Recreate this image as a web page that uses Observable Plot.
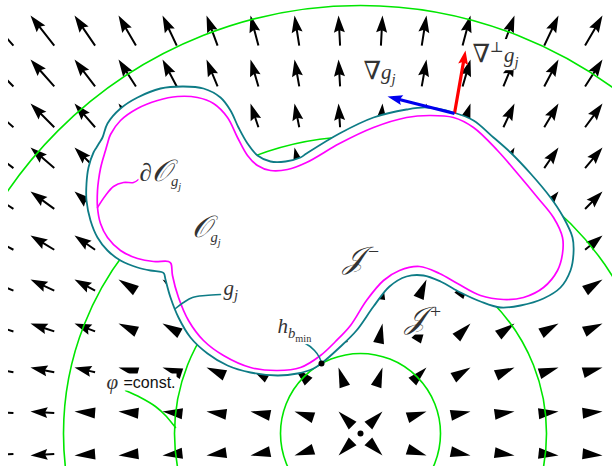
<!DOCTYPE html>
<html><head><meta charset="utf-8">
<script src="https://cdn.jsdelivr.net/npm/d3@7"></script>
<script src="https://cdn.jsdelivr.net/npm/@observablehq/plot@0.6"></script>
<style>body{margin:0;background:#fff}</style>
</head><body><div id="chart"></div>
<script>
// Quiver grid (arrow tip positions)
const colX = [-14, 30, 74, 118, 162, 206, 250, 294, 338, 382, 426, 470, 514, 558, 602];
const rowY = [15, 59, 103, 147, 191, 235, 279, 323, 367, 411, 455];
// source of the radial field
const source = [360, 433];
// level sets phi = const (radii)
const levelRadii = [80, 186, 297, 428];
// outer boundary g_j (teal)
const outerBoundary = [
[161,271.5],[150,270],[137,267],[120,260],[107,250],[97,237],[90,220],[86,200],[86,183],[88,167],[93,152],[96,147],[99,142],[102,137],[107,123],[120,108],[137,97],[160,88],[183,86],[203,88],[220,97],[230,110],[238,127],[247,143],[257,155],[270,161],[285,161],[300,157],[306,153],[339,133],[373,117],[406,109],[426,107],[453,112],[473,120],[493,137],[510,152],[530,173],[550,197],[563,217],[572,237],[573,253],[570,270],[560,287],[543,298],[520,305],[500,307],[480,301],[460,292],[440,281],[423,275],[406,276],[389,286],[373,306],[356,330],[339,347],[322,362],[313,368],[297,373],[277,375],[250,372],[227,365],[207,353],[190,337],[178,317],[170,297],[165,279],[163.5,273]
];
// inner boundary dO_gj (magenta)
const innerBoundary = [
[168,261],[153,261],[137,258],[120,250],[107,237],[100,223],[97,207],[97,190],[98,180],[100,168],[102,160],[105,150],[107,143],[110,134],[120,120],[137,108],[157,100],[177,96],[197,97],[213,103],[227,117],[237,137],[247,155],[257,165],[270,170],[287,169],[306,162],[339,143],[373,127],[406,117],[429,115],[453,117],[473,127],[497,150],[517,173],[537,197],[553,217],[562,237],[562,253],[557,270],[543,287],[523,297],[503,299],[480,295],[457,283],[439,273],[419,266],[399,270],[383,280],[366,300],[350,325],[335,341],[320,355],[300,367],[277,370],[250,367],[223,355],[203,340],[188,320],[178,297],[172,275],[170.5,263]
];
// leader lines
const leaders = [
  {c: "#ff00ff", pts: [[97,207],[105,195],[113,186],[123,182],[133,182],[138,179]]},
  {c: "#0e7c86", pts: [[175,308],[183,302],[192,297],[205,295],[220,294]]},
  {c: "#0e7c86", pts: [[294,340],[305,343],[314,350],[319,357],[321,363]]},
  {c: "#00e600", pts: [[125,390],[140,397],[155,406],[166,416],[175,427]]}
];
const contactPoint = [321, 363];
// gradient / perpendicular gradient at boundary point
const basePoint = [454, 113];
const gradTip = [387, 96];
const perpTip = [465, 50];
// labels (markup: _{} sub, ^{} sup, [] upright, <> enlarged symbol)
const labels = [
  {t: "<∂><𝒪>_{g_{j}}", x: 139, y: 180},
  {t: "<𝒪>_{g_{j}}", x: 191, y: 236},
  {t: "<𝒥>^{<−>}", x: 342, y: 267},
  {t: "<𝒥>^{<+>}", x: 404, y: 327},
  {t: "g_{j}", x: 223, y: 294},
  {t: "h_{b_{[min]}}", x: 277, y: 332},
  {t: "<∇>g_{j}", x: 363, y: 78},
  {t: "<∇>^{⊥}g_{j}", x: 472, y: 61},
  {t: "φ", x: 106, y: 388}
];
const mathSize = 21;

// ---- build arrow polygons
function arrowPoly(id, tx, ty, ux, uy, L, H, W, S) {
  const nx = -uy, ny = ux;
  let pts;
  if (L <= H + 4) {
    const bx = tx - L*ux, by = ty - L*uy;
    pts = [[tx,ty],[bx+W/2*nx,by+W/2*ny],[bx-W/2*nx,by-W/2*ny]];
  } else {
    const bx = tx - H*ux, by = ty - H*uy;
    const qx = tx - 0.88*H*ux, qy = ty - 0.88*H*uy;
    const ex = tx - L*ux, ey = ty - L*uy;
    pts = [[tx,ty],[bx+W/2*nx,by+W/2*ny],[qx+S/2*nx,qy+S/2*ny],[ex+S/2*nx,ey+S/2*ny],
           [ex-S/2*nx,ey-S/2*ny],[qx-S/2*nx,qy-S/2*ny],[bx-W/2*nx,by-W/2*ny]];
  }
  return pts.map(([x,y]) => ({id, x, y}));
}
const quiver = [];
let k = 0;
for (const y of rowY) for (const x of colX) {
  const dx = x - source[0], dy = y - source[1];
  const r = Math.hypot(dx, dy);
  const L = Math.max(20, 0.072*r);
  quiver.push(...arrowPoly(k++, x, y, dx/r, dy/r, L, 17, 11, 2));
}
function bigArrow(tip, id, H) {
  const dx = tip[0]-basePoint[0], dy = tip[1]-basePoint[1];
  const L = Math.hypot(dx, dy);
  return arrowPoly(id, tip[0], tip[1], dx/L, dy/L, L, H, 10, 3.2);
}
const redArrow = bigArrow(perpTip, "perp", 14);
const blueArrow = bigArrow(gradTip, "grad", 15);

const toObj = a => a.map(([x,y]) => ({x,y}));
const leaderData = leaders.flatMap((l, i) => l.pts.map(([x,y]) => ({x, y, id: i, c: l.c})));
const circles = levelRadii.map(r => ({x: source[0], y: source[1], r}));

const plot = Plot.plot({
  width: 612, height: 466,
  marginLeft: 8, marginRight: 0, marginTop: 0, marginBottom: 0,
  x: {domain: [8, 612], axis: null},
  y: {domain: [0, 466], range: [0, 466], axis: null},
  r: {type: "identity"},
  color: {type: "identity"},
  marks: [
    Plot.line(quiver, {x: "x", y: "y", z: "id", curve: "linear-closed", fill: "black", stroke: "none", clip: true}),
    Plot.dot(circles, {x: "x", y: "y", r: "r", stroke: "#00e600", strokeWidth: 1.6, fill: "none", clip: true}),
    Plot.line(toObj(outerBoundary), {x: "x", y: "y", curve: "catmull-rom-closed", fill: "white", stroke: "#0e7c86", strokeWidth: 1.8}),
    Plot.line(toObj(innerBoundary), {x: "x", y: "y", curve: "catmull-rom-closed", fill: "none", stroke: "#ff00ff", strokeWidth: 1.7}),
    Plot.line(leaderData, {x: "x", y: "y", z: "id", stroke: "c", curve: "catmull-rom", strokeWidth: 1.6}),
    Plot.dot([contactPoint, source], {x: d => d[0], y: d => d[1], r: 3, fill: "black"}),
    Plot.text(labels, {x: "x", y: "y", text: "t", textAnchor: "start", lineAnchor: "bottom", fontSize: mathSize, fill: "#333"}),
    Plot.text([{t: "=const.", x: 123, y: 387}], {x: "x", y: "y", text: "t", textAnchor: "start", lineAnchor: "bottom", fontSize: 16, fill: "#111"}),
    Plot.line(redArrow, {x: "x", y: "y", z: "id", curve: "linear-closed", fill: "#ff0000", stroke: "none"}),
    Plot.line(blueArrow, {x: "x", y: "y", z: "id", curve: "linear-closed", fill: "#0000ee", stroke: "none"})
  ]
});
document.getElementById("chart").appendChild(plot);

// ---- typeset math labels into tspans, add white boxes
function parseMath(s, size, shift, upright, out) {
  let i = 0, buf = "";
  const flush = () => { if (buf) { out.push({t: buf, size, shift, upright}); buf = ""; } };
  while (i < s.length) {
    const c = s[i];
    if ((c === "_" || c === "^") && s[i+1] === "{") {
      flush();
      let depth = 1, j = i + 2;
      while (depth) { if (s[j] === "{") depth++; else if (s[j] === "}") depth--; j++; }
      const grp = s.slice(i+2, j-1);
      const start = out.length;
      parseMath(grp, size*0.7, shift + (c === "_" ? size*0.27 : -size*0.45), upright, out);
      const prevPiece = out[start - 1];
      if (c === "^" && prevPiece && prevPiece.script && out[start]) out[start].dx = size*0.22;
      i = j; continue;
    }
    if (c === "[") {
      flush();
      const j = s.indexOf("]", i);
      parseMath(s.slice(i+1, j), size, shift, true, out);
      i = j + 1; continue;
    }
    if (c === "<") {
      flush();
      const j = s.indexOf(">", i);
      const sym = s.slice(i+1, j);
      const isScript = !/[∇∂−+]/.test(sym);
      const scale = /[−+]/.test(sym) ? 1.35 : isScript ? 1.45 : 1.2;
      out.push({t: sym, size: size*scale, shift, upright: /[−+]/.test(sym) || upright, script: isScript});
      i = j + 1; continue;
    }
    buf += c; i++;
  }
  flush();
}
const labelSet = new Set(labels.map(d => d.t));
plot.querySelectorAll("text").forEach(el => {
  const s = el.textContent;
  const isMath = labelSet.has(s);
  if (!isMath && s !== "=const.") return;
  if (isMath) {
    el.style.fontFamily = "'Liberation Serif', 'DejaVu Serif', serif";
    el.style.fontStyle = "italic";
    const pieces = [];
    parseMath(s, mathSize, 0, false, pieces);
    el.textContent = "";
    let prev = 0;
    for (const p of pieces) {
      const ts = document.createElementNS("http://www.w3.org/2000/svg", "tspan");
      ts.textContent = p.t;
      ts.style.fontSize = p.size.toFixed(1) + "px";
      if (p.shift !== prev) ts.setAttribute("dy", (p.shift - prev).toFixed(2));
      if (p.dx) ts.setAttribute("dx", p.dx.toFixed(2));
      if (p.upright) ts.style.fontStyle = "normal";
      prev = p.shift;
      el.appendChild(ts);
    }
  } else {
    el.style.fontFamily = "'Liberation Sans', Arial, sans-serif";
  }
  const bb = el.getBBox();
  const rect = document.createElementNS("http://www.w3.org/2000/svg", "rect");
  rect.setAttribute("x", bb.x - 1);
  rect.setAttribute("y", bb.y);
  rect.setAttribute("width", bb.width + 2);
  rect.setAttribute("height", bb.height);
  rect.setAttribute("fill", "white");
  if (el.getAttribute("transform")) rect.setAttribute("transform", el.getAttribute("transform"));
  el.parentNode.insertBefore(rect, el);
});
</script>
</body></html>
